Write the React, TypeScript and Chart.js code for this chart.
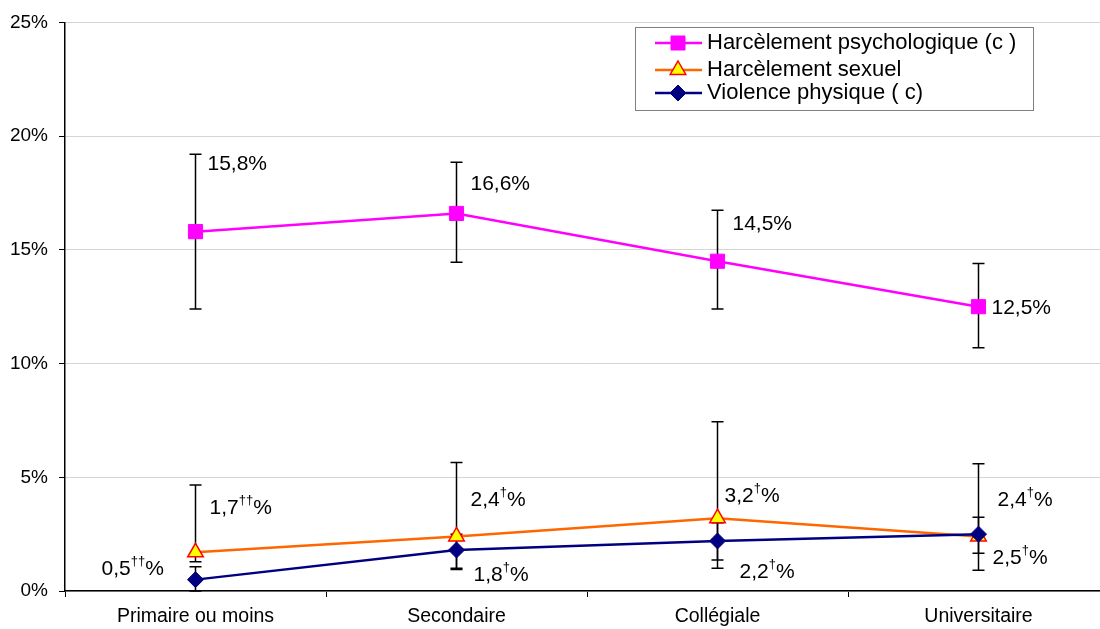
import React, { useEffect, useRef } from "react";
import { Chart, registerables } from "chart.js";
Chart.register(...registerables);

const categories = ["Primaire ou moins", "Secondaire", "Collégiale", "Universitaire"];
const seriesNames = ["Harcèlement psychologique (c )", "Harcèlement sexuel", "Violence physique ( c)"];

const psychValues = [15.8, 16.6, 14.5, 12.5];
const psychLow = [12.4, 14.45, 12.4, 10.7];
const psychHigh = [19.2, 18.85, 16.74, 14.4];
const psychMarks = ["", "", "", ""];

const sexualValues = [1.7, 2.4, 3.2, 2.4];
const sexualLow = [1.29, 1.0, 1.0, 0.91];
const sexualHigh = [4.66, 5.65, 7.44, 5.6];
const sexualMarks = ["††", "†", "†", "†"];

const violenceValues = [0.5, 1.8, 2.2, 2.5];
const violenceLow = [0.0, 0.95, 1.36, 1.66];
const violenceHigh = [1.07, 2.5, 3.0, 3.24];
const violenceMarks = ["††", "†", "†", "†"];

const yMin = 0;
const yMax = 25;
const yStep = 5;

// label placement (layout only): [dx, dy] from the point, text left-aligned
const psychLabelOffsets = [[12, -67], [14, -29], [15, -37], [13, 2]];
const sexualLabelOffsets = [[14, -44], [14, -36], [7, -22], [19, -36]];
const violenceLabelOffsets = [[-94, -10], [17, 25], [22, 31], [14, 24]];

const FONT = '"Liberation Sans", Arial, sans-serif';

const seriesInfo = [
  { values: psychValues, low: psychLow, high: psychHigh, marks: psychMarks, offsets: psychLabelOffsets },
  { values: sexualValues, low: sexualLow, high: sexualHigh, marks: sexualMarks, offsets: sexualLabelOffsets },
  { values: violenceValues, low: violenceLow, high: violenceHigh, marks: violenceMarks, offsets: violenceLabelOffsets },
];

const fmt = (v: number) => v.toFixed(1).replace(".", ",");

const errorBarPlugin = {
  id: "errorBars",
  beforeDatasetsDraw(chart: any) {
    const ctx = chart.ctx;
    const x = chart.scales.x;
    const y = chart.scales.y;
    ctx.save();
    ctx.strokeStyle = "#000";
    ctx.lineWidth = 1.5;
    seriesInfo.forEach((s) => {
      s.values.forEach((_, i) => {
        const px = x.getPixelForValue(i);
        const yl = y.getPixelForValue(s.low[i]);
        const yh = y.getPixelForValue(s.high[i]);
        ctx.beginPath();
        ctx.moveTo(px, yl);
        ctx.lineTo(px, yh);
        ctx.moveTo(px - 6, yl);
        ctx.lineTo(px + 6, yl);
        ctx.moveTo(px - 6, yh);
        ctx.lineTo(px + 6, yh);
        ctx.stroke();
      });
    });
    ctx.restore();
  },
};

const labelPlugin = {
  id: "valueLabels",
  afterDatasetsDraw(chart: any) {
    const ctx = chart.ctx;
    const x = chart.scales.x;
    const y = chart.scales.y;
    ctx.save();
    ctx.fillStyle = "#000";
    ctx.textBaseline = "middle";
    ctx.textAlign = "left";
    seriesInfo.forEach((s) => {
      s.values.forEach((v, i) => {
        const px = x.getPixelForValue(i) + s.offsets[i][0];
        const py = y.getPixelForValue(v) + s.offsets[i][1];
        let cx = px;
        ctx.font = `21px ${FONT}`;
        const main = fmt(v);
        ctx.fillText(main, cx, py);
        cx += ctx.measureText(main).width;
        if (s.marks[i]) {
          ctx.font = `13px ${FONT}`;
          ctx.fillText(s.marks[i], cx, py - 8);
          cx += ctx.measureText(s.marks[i]).width;
        }
        ctx.font = `21px ${FONT}`;
        ctx.fillText("%", cx, py);
      });
    });
    ctx.restore();
  },
};

const legendPlugin = {
  id: "customLegend",
  afterDraw(chart: any) {
    const ctx = chart.ctx;
    ctx.save();
    const bx = 635, by = 27, bw = 398, bh = 83;
    ctx.fillStyle = "#fff";
    ctx.fillRect(bx, by, bw, bh);
    ctx.strokeStyle = "#808080";
    ctx.lineWidth = 1;
    ctx.strokeRect(bx + 0.5, by + 0.5, bw, bh);
    const rows = [43, 70, 93];
    chart.data.datasets.forEach((ds: any, k: number) => {
      const ry = rows[k];
      ctx.strokeStyle = ds.borderColor;
      ctx.lineWidth = 2.5;
      ctx.beginPath();
      ctx.moveTo(655, ry);
      ctx.lineTo(702, ry);
      ctx.stroke();
      ctx.fillStyle = ds.pointBackgroundColor;
      ctx.strokeStyle = ds.pointBorderColor;
      ctx.lineWidth = ds.pointBorderWidth;
      ctx.beginPath();
      const cx = 678;
      if (ds.pointStyle === "rect") {
        ctx.rect(cx - 7, ry - 7, 14, 14);
      } else if (ds.pointStyle === "triangle") {
        const r = ds.pointRadius;
        ctx.moveTo(cx, ry - r);
        ctx.lineTo(cx + r * 0.866, ry + r * 0.5);
        ctx.lineTo(cx - r * 0.866, ry + r * 0.5);
        ctx.closePath();
      } else {
        const r = ds.pointRadius;
        ctx.moveTo(cx, ry - r);
        ctx.lineTo(cx + r, ry);
        ctx.lineTo(cx, ry + r);
        ctx.lineTo(cx - r, ry);
        ctx.closePath();
      }
      ctx.fill();
      ctx.stroke();
      ctx.fillStyle = "#000";
      ctx.font = `22px ${FONT}`;
      ctx.textBaseline = "middle";
      ctx.textAlign = "left";
      ctx.fillText(ds.label, 707, ry);
    });
    ctx.restore();
  },
};

export default function App() {
  const ref = useRef<HTMLCanvasElement | null>(null);
  useEffect(() => {
    if (!ref.current) return;
    const chart = new Chart(ref.current, {
      type: "line",
      data: {
        labels: categories,
        datasets: [
          {
            label: seriesNames[0],
            data: psychValues,
            borderColor: "#FF00FF",
            backgroundColor: "#FF00FF",
            pointBackgroundColor: "#FF00FF",
            pointBorderColor: "#FF00FF",
            pointBorderWidth: 1,
            pointStyle: "rect",
            pointRadius: 10,
            borderWidth: 2.5,
            order: 2,
          },
          {
            label: seriesNames[1],
            data: sexualValues,
            borderColor: "#FF6600",
            backgroundColor: "#FFFF00",
            pointBackgroundColor: "#FFFF00",
            pointBorderColor: "#FF0000",
            pointBorderWidth: 1.5,
            pointStyle: "triangle",
            pointRadius: 9,
            borderWidth: 2.5,
            order: 1,
          },
          {
            label: seriesNames[2],
            data: violenceValues,
            borderColor: "#000080",
            backgroundColor: "#000080",
            pointBackgroundColor: "#000080",
            pointBorderColor: "#000080",
            pointBorderWidth: 1,
            pointStyle: "rectRot",
            pointRadius: 8,
            borderWidth: 2.5,
            order: 0,
          },
        ],
      },
      options: {
        animation: false,
        responsive: false,
        maintainAspectRatio: false,
        layout: { padding: { top: 22, right: 10, left: 0, bottom: 0 } },
        plugins: {
          legend: { display: false },
          tooltip: { enabled: false },
        },
        scales: {
          x: {
            type: "category",
            offset: true,
            grid: {
              offset: true,
              drawOnChartArea: false,
              drawTicks: true,
              tickLength: 6,
              tickColor: "#000",
            },
            border: { color: "#000", width: 1.5 },
            ticks: {
              color: "#000",
              font: { family: FONT, size: 19.5 },
              padding: 8,
              maxRotation: 0,
            },
            afterFit(scale: any) {
              scale.height = 38;
            },
          },
          y: {
            min: yMin,
            max: yMax,
            grid: {
              color: "#d4d4d4",
              tickColor: "#000",
              tickLength: 6,
              lineWidth: 1,
            },
            border: { color: "#000", width: 1.5 },
            ticks: {
              stepSize: yStep,
              color: "#000",
              padding: 11,
              font: { family: FONT, size: 19 },
              callback: (v: any) => `${v}%`,
            },
            afterFit(scale: any) {
              scale.width = 65;
            },
          },
        },
      },
      plugins: [errorBarPlugin, labelPlugin, legendPlugin],
    } as any);
    return () => chart.destroy();
  }, []);
  return (
    <div
      style={{
        position: "fixed",
        left: 0,
        top: 0,
        width: 1100,
        height: 629,
        overflow: "hidden",
        background: "#fff",
      }}
    >
      <canvas ref={ref} width={1120} height={629} style={{ display: "block" }} />
    </div>
  );
}
